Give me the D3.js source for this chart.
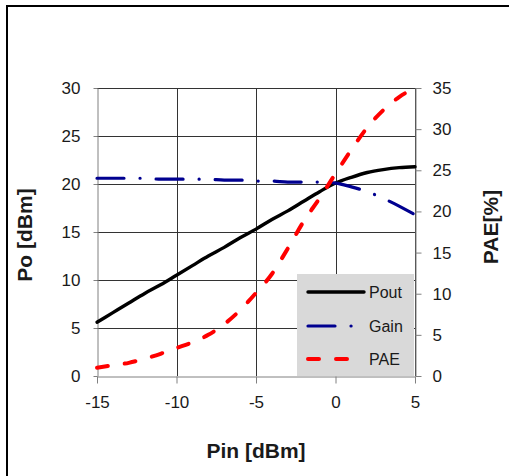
<!DOCTYPE html>
<html>
<head>
<meta charset="utf-8">
<script src="https://cdn.jsdelivr.net/npm/d3@7"></script>
<style>
  body { margin: 0; background: #fff; }
  text { font-family: "Liberation Sans", Arial, sans-serif; fill: #1a1a1a; }
</style>
</head>
<body>
<div id="chart"></div>
<script>
// input power sweep [dBm]
const pin = [-15, -14, -13, -12, -11, -10, -9, -8, -7, -6, -5, -4, -3, -2, -1, 0, 1, 2, 3, 4, 5];
// output power [dBm]
const pout = [5.6, 6.6, 7.6, 8.6, 9.5, 10.5, 11.5, 12.5, 13.4, 14.4, 15.3, 16.3, 17.2, 18.2, 19.2, 20.1, 20.7, 21.2, 21.5, 21.7, 21.8];
// gain [dB]
const gain = [20.6, 20.6, 20.6, 20.6, 20.5, 20.5, 20.5, 20.5, 20.4, 20.4, 20.3, 20.3, 20.2, 20.2, 20.2, 20.1, 19.7, 19.2, 18.5, 17.7, 16.8];
// power added efficiency [%]
const pae = [1.0, 1.3, 1.6, 2.1, 2.7, 3.4, 4.1, 5.0, 6.3, 8.0, 10.1, 12.4, 15.5, 18.8, 21.6, 24.6, 27.5, 30.2, 32.3, 33.9, 35.0];

const xTicks = [-15, -10, -5, 0, 5];
const leftTicks = [0, 5, 10, 15, 20, 25, 30];
const rightTicks = [0, 5, 10, 15, 20, 25, 30, 35];

const series = [
  { name: "Pout", values: pout, axis: "left", color: "#000000", width: 3.4, dash: null },
  { name: "Gain", values: gain, axis: "left", color: "#000090", width: 3.2, dash: "27,16,0.1,16" },
  { name: "PAE", values: pae, axis: "right", color: "#ff0000", width: 4, dash: "11,17" },
];

const width = 509;
const height = 476;

const svg = d3
  .select("#chart")
  .append("svg")
  .attr("width", width)
  .attr("height", height);

// outer frame
svg
  .append("rect")
  .attr("x", 7)
  .attr("y", 6)
  .attr("width", 560)
  .attr("height", 520)
  .attr("fill", "none")
  .attr("stroke", "#000")
  .attr("stroke-width", 2);

const x = d3.scaleLinear().domain([-15, 5]).range([97, 415]);
const yLeft = d3.scaleLinear().domain([0, 30]).range([376, 88]);
const yRight = d3.scaleLinear().domain([0, 35]).range([376, 88]);

// grid
const grid = svg.append("g").attr("stroke", "#333").attr("stroke-width", 1);
grid
  .selectAll(".hgrid")
  .data(leftTicks.slice(1))
  .enter()
  .append("line")
  .attr("x1", x(-15))
  .attr("x2", x(5))
  .attr("y1", (d) => Math.round(yLeft(d)) + 0.5)
  .attr("y2", (d) => Math.round(yLeft(d)) + 0.5);
grid
  .selectAll(".vgrid")
  .data(xTicks.slice(1))
  .enter()
  .append("line")
  .attr("x1", (d) => Math.round(x(d)) + 0.5)
  .attr("x2", (d) => Math.round(x(d)) + 0.5)
  .attr("y1", yLeft(30))
  .attr("y2", yLeft(0));

// axes
function styleAxis(g) {
  g.select(".domain").attr("stroke", "#808080");
  g.selectAll(".tick line").attr("stroke", "#808080");
  g.selectAll(".tick text")
    .attr("font-size", 17)
    .attr("fill", "#1a1a1a")
    .attr("font-family", "Liberation Sans, Arial, sans-serif");
}

svg
  .append("g")
  .attr("transform", "translate(0,376.5)")
  .call(d3.axisBottom(x).tickValues(xTicks).tickFormat((d) => String(d)).tickSizeInner(7).tickSizeOuter(0).tickPadding(12))
  .call(styleAxis);

svg
  .append("g")
  .attr("transform", "translate(97.5,0)")
  .call(d3.axisLeft(yLeft).tickValues(leftTicks).tickFormat((d) => String(d)).tickSizeInner(4).tickSizeOuter(0).tickPadding(13))
  .call(styleAxis);

svg
  .append("g")
  .attr("transform", "translate(415.5,0)")
  .call(d3.axisRight(yRight).tickValues(rightTicks).tickFormat((d) => String(d)).tickSizeInner(6).tickSizeOuter(0).tickPadding(11))
  .call(styleAxis);

// series lines
series.forEach((s) => {
  const yScale = s.axis === "left" ? yLeft : yRight;
  const line = d3
    .line()
    .x((d, i) => x(pin[i]))
    .y((d) => yScale(d))
    .curve(d3.curveMonotoneX);
  svg
    .append("path")
    .datum(s.values)
    .attr("d", line)
    .attr("fill", "none")
    .attr("stroke", s.color)
    .attr("stroke-width", s.width)
    .attr("stroke-linecap", "round")
    .attr("stroke-dasharray", s.dash);
});

// legend
const legend = svg.append("g").attr("transform", "translate(297,274)");
legend
  .append("rect")
  .attr("width", 117)
  .attr("height", 102)
  .attr("fill", "#d9d9d9");

const legendItems = legend
  .selectAll(".legend-item")
  .data(series)
  .enter()
  .append("g")
  .attr("transform", (d, i) => `translate(0, ${[18, 52, 85][i]})`);

legendItems
  .append("line")
  .attr("x1", 11)
  .attr("x2", 67)
  .attr("stroke", (d) => d.color)
  .attr("stroke-width", (d) => d.width)
  .attr("stroke-linecap", "round")
  .attr("stroke-dasharray", (d) => d.dash);

legendItems
  .append("text")
  .text((d) => d.name)
  .attr("x", 72)
  .attr("y", 6)
  .attr("font-size", 16);

// axis titles
svg
  .append("text")
  .text("Pin [dBm]")
  .attr("x", 256)
  .attr("y", 458)
  .attr("text-anchor", "middle")
  .attr("font-size", 21)
  .attr("font-weight", "bold");

svg
  .append("text")
  .text("Po [dBm]")
  .attr("transform", "translate(32,235) rotate(-90)")
  .attr("text-anchor", "middle")
  .attr("font-size", 21)
  .attr("font-weight", "bold");

svg
  .append("text")
  .text("PAE[%]")
  .attr("transform", "translate(498,227) rotate(-90)")
  .attr("text-anchor", "middle")
  .attr("font-size", 21)
  .attr("font-weight", "bold");
</script>
</body>
</html>
